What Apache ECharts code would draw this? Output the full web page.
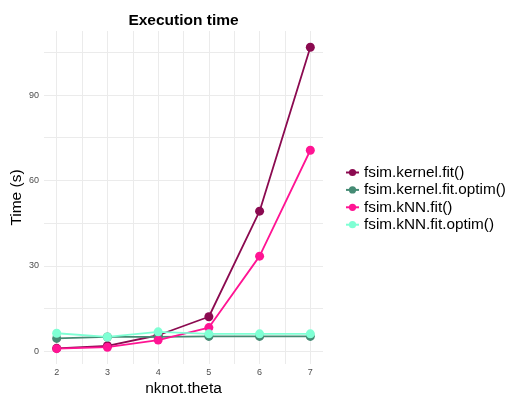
<!DOCTYPE html>
<html>
<head>
<meta charset="utf-8">
<script src="https://cdn.jsdelivr.net/npm/echarts@6/dist/echarts.min.js"></script>
<style>
  html, body { margin: 0; padding: 0; background: #fff; }
  #chart { width: 509px; height: 395px; }
</style>
</head>
<body>
<div id="chart"></div>
<script>
(function() {
  // data
  var knots = [2, 3, 4, 5, 6, 7];
  var kernelFit = [1.0, 1.9, 5.6, 12.1, 49.2, 106.8];
  var kernelFitOptim = [4.5, 5.0, 5.0, 5.2, 5.2, 5.2];
  var knnFit = [0.9, 1.4, 3.9, 8.3, 33.4, 70.6];
  var knnFitOptim = [6.3, 5.0, 6.8, 6.1, 6.1, 6.1];
  var seriesNames = ['fsim.kernel.fit()', 'fsim.kernel.fit.optim()', 'fsim.kNN.fit()', 'fsim.kNN.fit.optim()'];
  var seriesColors = ['#8B0A50', '#458B74', '#FF1493', '#7FFFD4'];
  var seriesData = [kernelFit, kernelFitOptim, knnFit, knnFitOptim];

  var font = '"Liberation Sans", Arial, sans-serif';
  var grid = '#ebebeb';
  var clear = 'rgba(0,0,0,0)';

  var chart = echarts.init(document.getElementById('chart'), null, { renderer: 'canvas' });

  var series = seriesNames.map(function(name, i) {
    return {
      name: name,
      type: 'line',
      data: knots.map(function(k, j) { return [k, seriesData[i][j]]; }),
      symbol: 'circle',
      symbolSize: 9,
      lineStyle: { color: seriesColors[i], width: 1.8 },
      itemStyle: { color: seriesColors[i] },
      emphasis: { disabled: true }
    };
  });

  chart.setOption({
    animation: false,
    title: {
      text: 'Execution time',
      left: 183.5,
      top: 12.5,
      padding: 0,
      textAlign: 'center',
      textStyle: { fontFamily: font, fontSize: 15.5, fontWeight: 'bold', color: '#000' }
    },
    grid: { left: 44, right: 186, top: 31, bottom: 31, outerBoundsMode: 'none', containLabel: false },
    legend: {
      orient: 'vertical',
      left: 340,
      top: 159,
      itemWidth: 13,
      itemHeight: 9,
      itemGap: 0.4,
      textStyle: { fontFamily: font, fontSize: 15.3, color: '#000', lineHeight: 17 },
      data: seriesNames
    },
    xAxis: {
      type: 'value',
      min: 1.75,
      max: 7.25,
      interval: 0.25,
      name: 'nknot.theta',
      nameLocation: 'middle',
      nameGap: 17,
      nameMoveOverlap: false,
      nameTextStyle: { fontFamily: font, fontSize: 15.5, color: '#000' },
      axisLine: { show: false },
      axisTick: { show: false },
      axisLabel: {
        margin: 4,
        fontFamily: font, fontSize: 9, color: '#4d4d4d',
        formatter: function(v) {
          var r = Math.round(v);
          return Math.abs(v - r) < 1e-6 ? String(r) : '';
        }
      },
      splitLine: { show: true, lineStyle: { color: [clear, grid], width: 1 } }
    },
    yAxis: {
      type: 'value',
      min: -4.5,
      max: 112.5,
      interval: 1.5,
      name: 'Time (s)',
      nameLocation: 'middle',
      nameGap: 19,
      nameMoveOverlap: false,
      nameTextStyle: { fontFamily: font, fontSize: 15.5, color: '#000' },
      axisLine: { show: false },
      axisTick: { show: false },
      axisLabel: {
        margin: 5,
        fontFamily: font, fontSize: 9, color: '#4d4d4d',
        formatter: function(v) {
          var r = Math.round(v);
          return (Math.abs(v - r) < 1e-6 && r % 30 === 0 && r >= 0) ? String(r) : '';
        }
      },
      splitLine: {
        show: true,
        lineStyle: {
          color: [clear, clear, clear, grid, clear, clear, clear, clear, clear, clear],
          width: 1
        }
      }
    },
    series: series
  });
})();
</script>
</body>
</html>
